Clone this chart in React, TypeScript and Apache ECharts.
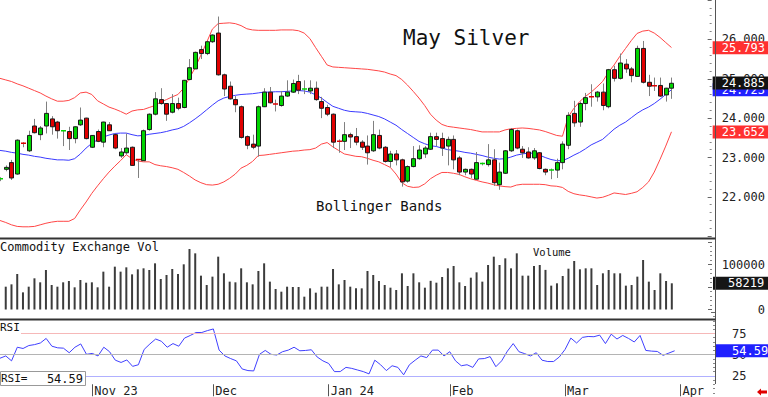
import React, { useEffect, useRef } from 'react';
import * as echarts from 'echarts';

const MONO = "'DejaVu Sans Mono', monospace";

// ---- categories (trading days) ----
const FIRST_DAY = '2023-10-10';
const SLOT_COUNT = 125; // 118 traded days + 7 empty future slots
const HOLIDAYS = ['2023-11-23', '2023-12-25', '2024-01-01', '2024-01-15', '2024-02-19', '2024-03-29'];
const MONTH_NAMES = ['Jan', 'Feb', 'Mar', 'Apr', 'May', 'Jun', 'Jul', 'Aug', 'Sep', 'Oct', 'Nov', 'Dec'];

function tradingDays(start: string, count: number, holidays: string[]): string[] {
  const out: string[] = [];
  const d = new Date(start + 'T00:00:00Z');
  while (out.length < count) {
    const wd = d.getUTCDay();
    const s = d.toISOString().slice(0, 10);
    if (wd !== 0 && wd !== 6 && holidays.indexOf(s) < 0) out.push(s);
    d.setUTCDate(d.getUTCDate() + 1);
  }
  return out;
}
const categories = tradingDays(FIRST_DAY, SLOT_COUNT, HOLIDAYS);

// ---- price (OHLC) ----
const open = [22.44,22.70,22.87,22.58,23.36,23.17,23.80,23.58,23.80,23.98,
23.90,23.66,23.66,23.48,23.83,24.00,23.26,23.66,23.39,23.83,
23.58,23.04,23.12,23.26,22.95,22.92,23.71,24.10,24.47,24.37,
24.15,24.37,24.27,24.98,25.25,25.74,25.64,25.94,26.16,25.10,
24.81,24.47,24.29,23.53,23.34,23.29,24.29,24.66,24.36,24.32,
24.56,24.66,24.93,24.72,24.69,24.76,24.42,24.27,24.10,23.41,
23.41,23.58,23.53,23.39,23.29,23.17,23.56,23.26,22.90,23.09,
22.94,22.40,22.77,22.97,23.09,23.21,23.53,23.48,23.29,23.46,
22.99,22.63,22.70,22.45,22.83,22.82,22.94,22.31,22.60,23.17,
23.68,23.21,23.14,22.99,23.12,22.70,22.66,22.68,22.87,23.31,
24.12,23.90,24.37,24.54,24.54,24.66,24.29,25.23,25.01,25.37,
25.25,25.06,25.77,24.91,24.82,24.83,24.59,24.76];
const close = [22.46,22.75,22.48,23.44,23.33,23.56,23.63,23.75,24.12,23.78,
23.68,23.68,23.48,23.78,23.95,23.48,23.56,23.41,23.90,23.68,
23.24,23.14,23.24,22.80,22.93,23.68,24.10,24.49,24.37,24.10,
24.37,24.25,24.96,25.28,25.67,25.64,25.94,26.11,25.10,24.74,
24.49,24.34,23.51,23.31,23.26,24.29,24.66,24.39,24.33,24.56,
24.66,24.88,24.71,24.74,24.76,24.47,24.25,24.10,23.39,23.40,
23.58,23.52,23.39,23.26,23.12,23.58,23.24,22.90,23.09,22.94,
22.38,22.77,22.97,23.19,23.24,23.53,23.46,23.24,23.46,22.94,
22.63,22.70,22.58,22.87,22.85,22.94,22.36,22.63,23.17,23.71,
23.24,23.12,22.99,23.17,22.72,22.63,22.68,22.87,23.34,24.07,
23.88,24.37,24.52,24.50,24.66,24.32,25.23,25.01,25.40,25.25,
25.08,25.77,24.91,24.81,24.80,24.56,24.76,24.885];
const low = [22.40,22.65,22.43,22.56,23.26,23.14,23.61,23.44,23.61,23.58,
23.48,23.29,23.19,23.36,23.80,23.46,23.24,23.39,23.26,23.68,
23.21,22.99,23.07,22.79,22.48,22.91,23.68,24.07,24.34,23.93,
24.12,24.20,24.25,24.96,25.25,25.50,25.60,25.91,25.08,24.56,
24.47,24.15,23.48,23.21,23.21,23.02,24.28,24.37,24.17,24.29,
24.54,24.64,24.61,24.61,24.61,24.44,24.00,24.05,23.24,23.12,
23.19,23.24,23.31,23.19,22.82,23.14,23.21,22.87,22.75,22.80,
22.26,22.36,22.75,22.94,22.99,23.19,23.29,23.04,22.80,22.70,
22.55,22.55,22.48,22.44,22.80,22.77,22.28,22.18,22.58,23.14,
23.21,22.99,22.97,22.94,22.70,22.55,22.45,22.48,22.70,23.21,
23.78,23.78,24.20,24.29,24.42,24.20,24.25,24.93,24.98,25.15,
24.91,25.06,24.88,24.56,24.69,24.54,24.42,24.49];
const high = [22.50,22.80,22.94,23.46,23.39,23.68,23.98,23.80,24.42,24.05,
23.93,23.69,23.78,23.79,24.27,24.01,23.57,23.71,23.91,23.90,
23.61,23.24,23.61,23.28,22.96,23.71,24.12,24.66,24.76,24.38,
24.61,24.52,24.97,25.50,25.69,25.84,25.96,26.13,26.58,25.13,
24.93,24.56,24.32,23.56,23.58,24.32,24.76,24.79,24.47,24.69,
24.96,24.98,25.10,24.96,24.96,24.93,24.54,24.34,24.12,23.46,
23.90,23.63,23.75,23.44,23.56,23.93,23.71,23.29,23.17,23.19,
22.97,22.80,23.29,23.31,23.29,23.63,23.63,23.63,23.53,23.56,
23.04,22.72,22.72,23.14,22.87,23.34,23.21,22.87,23.19,23.75,
23.71,23.29,23.26,23.24,23.14,22.72,22.72,22.97,23.41,24.15,
24.44,24.42,24.64,24.86,24.69,24.88,25.25,25.33,25.64,25.50,
25.30,25.84,25.96,25.10,25.03,25.03,24.77,25.03];

// ---- Bollinger bands ----
const upperBand = [25.01,24.97,24.93,24.87,24.82,24.76,24.70,24.64,24.56,24.49,
24.43,24.43,24.45,24.52,24.64,24.66,24.60,24.44,24.36,24.28,
24.23,24.17,24.10,24.18,24.21,24.22,24.27,24.32,24.41,24.47,
24.54,24.60,24.76,25.01,25.28,25.60,25.92,26.26,26.40,26.41,
26.42,26.40,26.35,26.27,26.24,26.23,26.23,26.23,26.23,26.24,
26.24,26.24,26.22,26.16,26.02,25.79,25.57,25.35,25.30,25.29,
25.28,25.27,25.26,25.25,25.24,25.22,25.20,25.17,25.12,25.08,
24.98,24.84,24.68,24.51,24.32,24.10,23.95,23.84,23.79,23.77,
23.75,23.73,23.71,23.68,23.65,23.65,23.65,23.65,23.70,23.73,
23.74,23.75,23.74,23.72,23.70,23.66,23.61,23.56,23.54,24.03,
24.25,24.42,24.55,24.66,24.79,24.93,25.16,25.35,25.57,25.77,
25.97,26.15,26.21,26.23,26.16,26.05,25.92,25.793];
const midBand = [23.18,23.16,23.13,23.11,23.08,23.06,23.03,23.01,22.98,22.96,
22.94,22.94,22.93,22.97,23.09,23.24,23.36,23.45,23.52,23.57,
23.61,23.62,23.62,23.58,23.55,23.56,23.59,23.61,23.63,23.66,
23.70,23.73,23.79,23.88,23.98,24.09,24.21,24.33,24.44,24.51,
24.55,24.58,24.60,24.61,24.62,24.64,24.66,24.66,24.67,24.67,
24.68,24.69,24.70,24.69,24.66,24.59,24.51,24.40,24.30,24.25,
24.20,24.17,24.16,24.15,24.12,24.08,24.04,23.98,23.90,23.82,
23.71,23.61,23.51,23.41,23.35,23.30,23.28,23.24,23.20,23.18,
23.16,23.13,23.11,23.08,23.05,23.01,22.98,22.96,22.97,23.01,
23.06,23.09,23.11,23.11,23.06,23.00,22.95,22.92,22.92,22.98,
23.06,23.13,23.22,23.32,23.39,23.46,23.59,23.72,23.82,23.90,
24.01,24.12,24.21,24.28,24.37,24.48,24.60,24.723];
const lowerBand = [21.40,21.35,21.29,21.25,21.24,21.24,21.25,21.29,21.33,21.36,
21.38,21.38,21.38,21.45,21.67,21.87,22.09,22.28,22.46,22.63,
22.78,22.92,23.07,22.97,22.91,22.89,22.89,22.82,22.79,22.77,
22.74,22.70,22.62,22.53,22.43,22.36,22.31,22.30,22.32,22.38,
22.47,22.58,22.73,22.80,22.90,23.05,23.06,23.08,23.10,23.12,
23.14,23.16,23.17,23.19,23.20,23.24,23.34,23.38,23.27,23.18,
23.09,23.06,23.03,23.02,22.98,22.93,22.89,22.82,22.75,22.58,
22.36,22.27,22.24,22.25,22.33,22.46,22.55,22.62,22.62,22.60,
22.57,22.51,22.46,22.42,22.38,22.35,22.31,22.28,22.26,22.25,
22.30,22.32,22.32,22.32,22.32,22.31,22.28,22.27,22.24,22.14,
22.08,22.05,22.03,22.00,21.97,21.99,22.04,22.10,22.08,22.06,
22.09,22.13,22.24,22.38,22.63,22.95,23.29,23.652];

// ---- volume ----
const volume = [null,50700,55900,78900,38100,50700,69300,60400,87800,54400,
50700,60400,63300,49300,65600,59600,60400,49300,84100,50700,
95200,84100,93700,78100,89300,91500,87800,102600,67800,76700,
90000,78900,100400,134400,124800,75200,54400,73000,117400,80400,
61900,60400,91500,60400,55900,85600,102600,61900,45600,39600,
50700,50000,50000,28500,47000,37400,50700,50700,90000,55900,
65600,50700,47000,47000,85600,76700,63300,54400,48500,43300,
80400,52200,80400,60400,48500,63700,59600,72200,91500,96700,
60400,52200,70700,82600,61900,98900,117400,98900,113700,91500,
124800,75200,75200,96700,98900,88000,53000,58200,74400,90700,
107800,89300,91500,91500,54400,80400,87800,80400,80400,53000,
54400,73000,110000,61900,43300,80400,63300,58219];

// ---- RSI ----
const rsi = [45.8,48.5,42.7,58.8,57.3,60.8,61.9,63.8,69.2,60.0,
58.1,57.7,52.3,58.8,62.7,50.4,51.5,48.5,58.8,53.5,
43.5,40.8,43.8,36.2,38.1,56.2,62.7,68.5,65.8,58.8,
63.1,60.0,69.6,72.7,76.2,76.2,78.5,80.4,55.4,48.5,
45.4,42.7,33.1,31.2,30.8,50.4,55.0,50.4,49.6,53.5,
55.4,58.8,54.6,55.0,55.8,47.3,42.7,39.6,30.0,30.0,
35.0,33.8,31.9,30.0,27.3,43.5,38.1,31.2,36.9,35.0,
26.2,38.1,43.5,48.5,46.5,55.4,55.4,48.5,53.5,42.7,
36.9,38.1,35.0,45.0,45.4,47.7,35.8,42.7,54.2,63.1,
53.5,51.2,48.5,52.3,43.5,41.9,41.9,47.3,56.2,69.6,
63.8,70.4,71.5,71.2,73.1,63.1,74.2,68.5,72.7,69.2,
65.0,72.7,55.0,54.2,53.8,49.2,51.9,54.59];
const RSI_LEVELS = [75, 50, 25];

const PRICE_TICKS = [22, 23, 24, 25, 26];
const VOL_TICKS = [0, 100000];

const last = <T,>(a: T[]) => a[a.length - 1];

const isMonthStart = (i: number) =>
  i > 0 && categories[i].slice(5, 7) !== categories[i - 1].slice(5, 7);
let firstLabelIdx = -1;
for (let i = 0; i < categories.length; i++) if (isMonthStart(i)) { firstLabelIdx = i; break; }

const UP = '#00d400';
const DOWN = '#e00000';
const NOLINE = { color: 'rgba(0,0,0,0)', width: 1, type: 'solid' };

function boxLabel(text: string, bg: string, padLeft: number) {
  return {
    show: true,
    position: 'end',
    distance: 1,
    formatter: text,
    backgroundColor: bg,
    color: '#ffffff',
    opacity: 1,
    fontFamily: MONO,
    fontSize: 12,
    lineHeight: 13,
    padding: [0, 30, 0, padLeft],
  };
}

function buildOption() {
  const candleData = open.map((o, i) => [i, o, close[i], low[i], high[i]]);
  const hiddenX = (gridIndex: number) => ({
    type: 'category', gridIndex, data: categories, boundaryGap: false, show: false,
  });
  const G = { left: 0, right: 53 };

  return {
    animation: false,
    backgroundColor: '#ffffff',
    grid: [
      { ...G, top: -8.25, height: 244.5 },
      { ...G, top: 242, height: 67.5 },
      { ...G, top: 312.35, height: 86.6 },
      { ...G, top: 384, height: 1 },
    ],
    xAxis: [
      hiddenX(0), hiddenX(1), hiddenX(2),
      {
        type: 'category', gridIndex: 3, data: categories, boundaryGap: false,
        axisLine: { show: false },
        axisTick: {
          show: true, interval: (i: number) => isMonthStart(i), length: 12,
          lineStyle: { color: '#555', width: 1 },
        },
        axisLabel: {
          show: true,
          interval: (i: number) => isMonthStart(i),
          formatter: (v: string, i: number) => {
            const m = +v.slice(5, 7) - 1;
            const yy = v.slice(2, 4);
            return MONTH_NAMES[m] + (m === 0 || i === firstLabelIdx ? ' ' + yy : '');
          },
          align: 'left', margin: 1, padding: [0, 0, 0, 2],
          fontFamily: MONO, fontSize: 12, color: '#222',
        },
        splitLine: { show: false },
      },
    ],
    yAxis: [
      {
        type: 'value', gridIndex: 0, position: 'right', min: 21, max: 27, interval: 1,
        axisLine: { show: false },
        axisTick: { show: true, inside: true, length: 4, lineStyle: { color: '#666' } },
        minorTick: { show: true, splitNumber: 5, length: 2, lineStyle: { color: '#888' } },
        splitLine: { show: false },
        axisLabel: {
          margin: 10, fontFamily: MONO, fontSize: 12, color: '#222',
          formatter: (v: number) => (PRICE_TICKS.indexOf(v) >= 0 ? v.toFixed(3) : ''),
        },
      },
      {
        type: 'value', gridIndex: 1, position: 'right', min: 0, max: 150000, interval: 50000,
        axisLine: { show: false },
        axisTick: { show: true, inside: true, length: 4, lineStyle: { color: '#666' } },
        minorTick: { show: true, splitNumber: 5, length: 2, lineStyle: { color: '#888' } },
        splitLine: { show: false },
        axisLabel: {
          margin: 53, align: 'right', fontFamily: MONO, fontSize: 12, color: '#222',
          formatter: (v: number) => (VOL_TICKS.indexOf(v) >= 0 ? String(v) : ''),
        },
      },
      {
        type: 'value', gridIndex: 2, position: 'right', min: 0, max: 100, interval: 25,
        axisLine: { show: false },
        axisTick: { show: true, inside: true, length: 4, lineStyle: { color: '#666' } },
        minorTick: { show: true, splitNumber: 5, length: 2, lineStyle: { color: '#888' } },
        splitLine: { show: false },
        axisLabel: {
          margin: 17, fontFamily: MONO, fontSize: 12, color: '#222',
          formatter: (v: number) => (RSI_LEVELS.indexOf(v) >= 0 ? String(v) : ''),
        },
      },
      { type: 'value', gridIndex: 3, show: false },
    ],
    series: [
      {
        name: 'upper', type: 'line', xAxisIndex: 0, yAxisIndex: 0, data: upperBand,
        showSymbol: false, symbol: 'none', lineStyle: { color: '#ff4646', width: 1 },
        z: 2,
        markLine: {
          silent: true, symbol: ['none', 'none'],
          data: [{ yAxis: last(upperBand), lineStyle: NOLINE, label: boxLabel(last(upperBand).toFixed(3), '#ff3030', 9) }],
        },
      },
      {
        name: 'mid', type: 'line', xAxisIndex: 0, yAxisIndex: 0, data: midBand,
        showSymbol: false, symbol: 'none', lineStyle: { color: '#3a3aff', width: 1 },
        z: 2,
        markLine: {
          silent: true, symbol: ['none', 'none'],
          data: [
            { yAxis: last(midBand), lineStyle: NOLINE, label: boxLabel(last(midBand).toFixed(3), '#2020ff', 9) },
            { yAxis: last(close), lineStyle: NOLINE, label: boxLabel(last(close).toFixed(3), '#111111', 9) },
          ],
        },
      },
      {
        name: 'lower', type: 'line', xAxisIndex: 0, yAxisIndex: 0, data: lowerBand,
        showSymbol: false, symbol: 'none', lineStyle: { color: '#ff4646', width: 1 },
        z: 2,
        markLine: {
          silent: true, symbol: ['none', 'none'],
          data: [{ yAxis: last(lowerBand), lineStyle: NOLINE, label: boxLabel(last(lowerBand).toFixed(3), '#ff3030', 9) }],
        },
      },
      {
        name: 'price', type: 'custom', xAxisIndex: 0, yAxisIndex: 0, data: candleData,
        clip: true, z: 3,
        encode: { x: 0, y: [1, 2, 3, 4] },
        renderItem: (params: any, api: any) => {
          const idx = api.value(0);
          const o = api.value(1), c = api.value(2), l = api.value(3), h = api.value(4);
          const x = Math.round(api.coord([idx, o])[0]) + 0.5;
          const yO = api.coord([idx, o])[1];
          const yC = api.coord([idx, c])[1];
          const yL = api.coord([idx, l])[1];
          const yH = api.coord([idx, h])[1];
          const up = c >= o;
          const top = Math.min(yO, yC);
          const bot = Math.max(yO, yC);
          const children: any[] = [
            { type: 'line', shape: { x1: x, y1: yH, x2: x, y2: yL }, style: { stroke: '#808080', lineWidth: 1 } },
          ];
          if (bot - top < 1.6) {
            children.push({ type: 'line', shape: { x1: x - 2.5, y1: top, x2: x + 2.5, y2: top }, style: { stroke: up ? UP : DOWN, lineWidth: 1.5 } });
          } else {
            children.push({ type: 'rect', shape: { x: x - 2, y: top, width: 4, height: bot - top }, style: { fill: up ? UP : DOWN, stroke: '#1a1a1a', lineWidth: 1 } });
          }
          return { type: 'group', children };
        },
      },
      {
        name: 'volume', type: 'bar', xAxisIndex: 1, yAxisIndex: 1, data: volume,
        barWidth: 2, itemStyle: { color: '#3c3c3c' }, z: 2,
        markLine: {
          silent: true, symbol: ['none', 'none'],
          data: [{ yAxis: last(volume), lineStyle: NOLINE, label: boxLabel(String(last(volume)), '#161616', 15) }],
        },
      },
      {
        name: 'rsi', type: 'line', xAxisIndex: 2, yAxisIndex: 2, data: rsi,
        showSymbol: false, symbol: 'none', lineStyle: { color: '#4040ff', width: 1 }, z: 3,
        markLine: {
          silent: true, symbol: ['none', 'none'],
          data: [
            { yAxis: RSI_LEVELS[0], lineStyle: { color: '#f6b8b8', type: 'solid', width: 1 }, label: { show: false } },
            { yAxis: RSI_LEVELS[1], lineStyle: { color: '#b4b4b4', type: 'solid', width: 1 }, label: { show: false } },
            { yAxis: RSI_LEVELS[2], lineStyle: { color: '#b0b0ff', type: 'solid', width: 1 }, label: { show: false } },
            { yAxis: last(rsi), lineStyle: NOLINE, label: boxLabel(last(rsi).toFixed(2), '#2020ff', 16) },
          ],
        },
      },
    ],
    graphic: [
      { type: 'line', z: 100, shape: { x1: 715.5, y1: 0, x2: 715.5, y2: 384 }, style: { stroke: '#555', lineWidth: 1 } },
      { type: 'line', z: 100, shape: { x1: 0, y1: 238.5, x2: 715.5, y2: 238.5 }, style: { stroke: '#333', lineWidth: 2 } },
      { type: 'line', z: 100, shape: { x1: 0, y1: 319.5, x2: 715.5, y2: 319.5 }, style: { stroke: '#333', lineWidth: 2 } },
      { type: 'text', z: 100, style: { x: 403, y: 37.5, text: 'May Silver', font: `21px ${MONO}`, fill: '#111', verticalAlign: 'middle' } },
      { type: 'text', z: 100, style: { x: 316, y: 205.5, text: 'Bollinger Bands', font: `14px ${MONO}`, fill: '#111', verticalAlign: 'middle' } },
      { type: 'text', z: 100, style: { x: 0, y: 246.5, text: 'Commodity Exchange Vol', font: `12px ${MONO}`, fill: '#111', verticalAlign: 'middle' } },
      { type: 'text', z: 100, style: { x: 533, y: 252, text: 'Volume', font: `10.5px ${MONO}`, fill: '#111', verticalAlign: 'middle' } },
      { type: 'rect', z: 100, shape: { x: 0, y: 321, width: 21, height: 15 }, style: { fill: '#fff' } },
      { type: 'text', z: 101, style: { x: 0, y: 327, text: 'RSI', font: `11px ${MONO}`, fill: '#111', verticalAlign: 'middle' } },
      { type: 'rect', z: 100, shape: { x: 0.5, y: 371.5, width: 85, height: 14 }, style: { fill: '#fff', stroke: '#999', lineWidth: 1 } },
      { type: 'text', z: 101, style: { x: 1, y: 378.5, text: 'RSI=', font: `11px ${MONO}`, fill: '#111', verticalAlign: 'middle' } },
      { type: 'text', z: 101, style: { x: 83, y: 378.5, text: last(rsi).toFixed(2), font: `12px ${MONO}`, fill: '#111', verticalAlign: 'middle', align: 'right' } },
      {
        type: 'polygon', z: 100,
        shape: { points: [[757, 392], [761, 388.5], [761, 390.5], [767, 390.5], [767, 393.5], [761, 393.5], [761, 395.5]] },
        style: { fill: '#e00000' },
      },
    ],
  };
}

export default function App() {
  const ref = useRef<HTMLDivElement>(null);
  useEffect(() => {
    if (!ref.current) return;
    const chart = echarts.init(ref.current, null, { renderer: 'svg' });
    chart.setOption(buildOption() as any);
    return () => chart.dispose();
  }, []);
  return <div ref={ref} style={{ position: 'absolute', left: 0, top: 0, width: 768, height: 397 }} />;
}
